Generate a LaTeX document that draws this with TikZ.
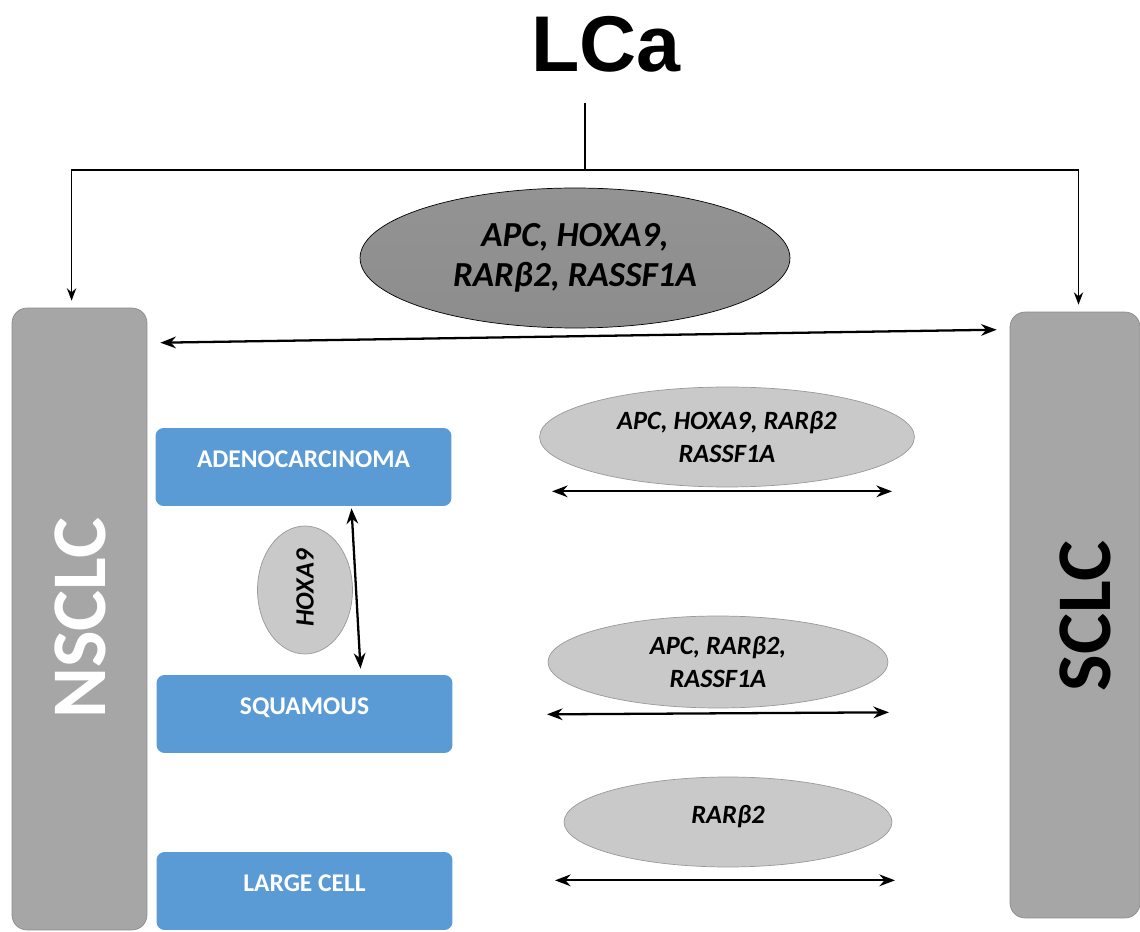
\documentclass[tikz,border=0pt]{standalone}
\usepackage{fontspec}
\setmainfont{Carlito}
\newfontfamily\arialfont{Liberation Sans}
\usetikzlibrary{arrows.meta,positioning,calc,shapes.geometric}

\definecolor{boxgray}{RGB}{166,166,166}
\definecolor{boxedge}{RGB}{140,140,140}
\definecolor{subblue}{RGB}{91,155,213}
\definecolor{darkgene}{RGB}{128,128,128}
\definecolor{lightgene}{RGB}{201,201,201}

\begin{document}
\begin{tikzpicture}[
  x=0.02cm, y=-0.02cm,
  group/.style={rectangle, draw=boxedge, fill=boxgray, rounded corners=0.3cm, inner sep=0pt},
  subtype/.style={rectangle, fill=subblue, rounded corners=0.16cm, minimum width=5.92cm, minimum height=1.56cm,
    text depth=0.32cm, text=white, font=\fontsize{14.5}{16}\selectfont\bfseries},
  gene/.style={ellipse, draw=gray!80, fill=lightgene, inner sep=0pt, align=center,
    font=\fontsize{15}{18.5}\selectfont\bfseries\itshape},
  link/.style={<->, line width=1.3pt},
  >=Stealth
]
\useasboundingbox (0,0) rectangle (1140,932);

% Titel und Hauptgruppen
\node[font=\arialfont\fontsize{45}{45}\selectfont\bfseries] (lca) at (606,44) {LCa};

\node[group, minimum width=2.7cm, minimum height=12.44cm] (nsclc) at (79.5,619) {};
\node[rotate=90, text=white, font=\fontsize{44}{44}\selectfont\bfseries] (nsclclab) at (80,618) {NSCLC};

\node[group, minimum width=2.6cm, minimum height=12.12cm] (sclc) at (1075,615) {};
\node[rotate=90, font=\fontsize{44}{44}\selectfont\bfseries] (sclclab) at (1085,616) {SCLC};

\coordinate (split) at (585,170);
\draw[line width=0.9pt, shorten <=14pt] (lca.south -| split) -- (split);
\draw[->, line width=0.9pt, shorten >=4pt] (split) -| ([xshift=-4.5]nsclc.north);
\draw[->, line width=0.9pt, shorten >=4pt] (split) -| ([xshift=2]sclc.north);

\node[ellipse, draw=black, top color=darkgene!85, bottom color=darkgene!110!black, minimum width=8.6cm, minimum height=2.8cm,
  inner sep=0pt, align=center, font=\fontsize{20}{23}\selectfont\bfseries\itshape] (common) at (575,258)
  {APC, HOXA9,\\ RARβ2, RASSF1A};

\coordinate (l0) at ($(nsclc.north east)+(13,35)$);
\coordinate (r0) at ($(sclc.north west)+(-13,18)$);
\draw[link] (l0) -- (r0);

% Subtypen
\node[subtype] (adeno) at (303.5,467) {ADENOCARCINOMA};
\node[subtype] (squamous) at (304.5,714) {SQUAMOUS};
\node[subtype] (large) at (304.5,891) {LARGE CELL};

\node[gene, minimum width=1.9cm, minimum height=2.56cm] (hoxa) at (305,590) {};
\node[rotate=90, font=\fontsize{15}{17}\selectfont\bfseries\itshape] (hoxalab) at (305,588) {HOXA9};
\draw[link] ($(adeno.south)+(48,2)$) -- ($(squamous.north)+(56,-6)$);

% Gene je Subtyp
\node[gene, minimum width=7.5cm, minimum height=2cm] (e1) at (727,437) {APC, HOXA9, RARβ2\\ RASSF1A};
\node[gene, minimum width=6.8cm, minimum height=1.84cm] (e2) at (718,662) {APC, RARβ2,\\ RASSF1A};
\node[gene, minimum width=6.56cm, minimum height=1.8cm, text depth=0.3cm] (e3) at (728,822) {RARβ2};

\coordinate (l1) at ($(e1.south)+(-175,4)$);
\coordinate (r1) at ($(e1.south)+(165,4)$);
\coordinate (l2) at ($(e2.south)+(-171,6)$);
\coordinate (r2) at ($(e2.south)+(171,4)$);
\coordinate (l3) at ($(e3.south)+(-173,13)$);
\coordinate (r3) at ($(e3.south)+(167,13)$);
\foreach \n in {1,2,3} {
  \draw[link] (l\n) -- (r\n);
}
\end{tikzpicture}
\end{document}
